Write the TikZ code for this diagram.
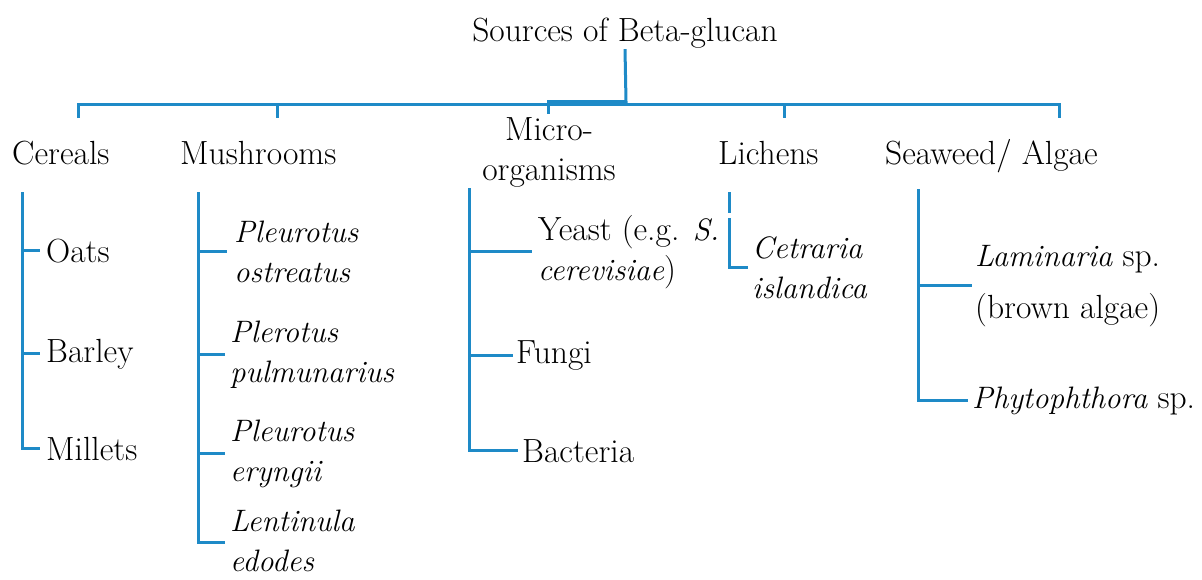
\documentclass[tikz,border=0pt]{standalone}
\usepackage{fontspec}
\usepackage{tikz}
\definecolor{bbl}{RGB}{30,138,199}
\newcommand{\itf}{\fontsize{31}{40}\selectfont\itshape}
\begin{document}
\begin{tikzpicture}[x=1pt,y=-1pt,
  lbl/.style={font=\fontsize{33.5}{40}\selectfont, inner sep=0pt, anchor=base west, align=left},
  itl/.style={lbl, font=\itf},
  branch/.style={draw=bbl, line width=3pt, line join=miter}]
\useasboundingbox (0,0) rectangle (1202,579);

% title
\node[lbl, anchor=base] (title) at (625,41) {Sources of Beta-glucan};
\coordinate (hub) at (626,101.5);
\coordinate (jL) at (547,101.5);
\draw[branch] ([yshift=-1pt]title.south) -- (hub) -- (jL);

% main bar
\coordinate (b1) at (78,104);
\coordinate (b2) at (277,104);
\coordinate (b3) at (548,104);
\coordinate (b4) at (784,104);
\coordinate (b5) at (1059,104);
\draw[branch] ([yshift=-14pt]b1) -- (b1) -- (b5) -- ([yshift=-14pt]b5);
\draw[branch] (b2) -- ++(0,14);
\draw[branch] (b3) -- ++(0,10);
\draw[branch] (b4) -- ++(0,14);

% categories
\node[lbl] (cer) at (12,164) {Cereals};
\node[lbl] (mush) at (180,164) {Mushrooms};
\node[lbl, align=center, anchor=base] (micro) at (549,180) {Micro-\\organisms};
\node[lbl] (lich) at (718,164) {Lichens};
\node[lbl] (sea) at (885,164) {Seaweed/ Algae};

% cereals
\coordinate (cv) at (22,192);
\node[lbl] (oats) at (46,262) {Oats};
\node[lbl] (barley) at (46,362) {Barley};
\node[lbl] (millets) at (46,460) {Millets};
\draw[branch] (cv) |- ([xshift=-6pt]millets.west);
\draw[branch] (cv |- oats.west) -- ([xshift=-6pt]oats.west);
\draw[branch] (cv |- barley.west) -- ([xshift=-6pt]barley.west);

% mushrooms
\coordinate (mv) at (198,192);
\node[itl] (pos) at (234,282) {Pleurotus\\ostreatus};
\node[itl] (ppu) at (230,382) {Plerotus\\pulmunarius};
\node[itl] (per) at (230,481) {Pleurotus\\eryngii};
\node[itl] (led) at (230,571) {Lentinula\\edodes};
\draw[branch] (mv) |- ([xshift=-5pt,yshift=-2pt]led.west);
\draw[branch] (mv |- pos.west) -- ([xshift=-7pt]pos.west);
\draw[branch] (mv |- ppu.west) -- ([xshift=-5pt]ppu.west);
\draw[branch] (mv |- per.west) -- ([xshift=-5pt]per.west);

% micro-organisms
\coordinate (miv) at (469,188);
\node[lbl] (yeast) at (538,280) {Yeast (e.g. {\itf S.}\\{\itf cerevisiae})};
\node[lbl] (fungi) at (516,363) {Fungi};
\node[lbl] (bact) at (522,462) {Bacteria};
\draw[branch] (miv) |- ([xshift=-4pt]bact.west);
\draw[branch] (miv |- yeast.west) -- ([xshift=-6pt]yeast.west);
\draw[branch] (miv |- fungi.west) -- ([xshift=-3pt]fungi.west);

% lichens
\coordinate (lv) at (729,192);
\coordinate (lv2) at (729,218);
\node[itl] (cet) at (752,298) {Cetraria\\islandica};
\draw[branch] (lv) -- ++(0,21);
\draw[branch] (lv2) |- ([xshift=-4pt]cet.west);

% seaweed
\coordinate (sv) at (918,189);
\node[lbl] (lam) at (975,318) {{\itf Laminaria} sp.\\[12pt](brown algae)};
\node[lbl] (phy) at (972,408) {{\itf Phytophthora} sp.};
\draw[branch] (sv) |- ([xshift=-4pt]phy.west);
\draw[branch] (sv |- lam.west) -- ([xshift=-3pt]lam.west);
\end{tikzpicture}
\end{document}
